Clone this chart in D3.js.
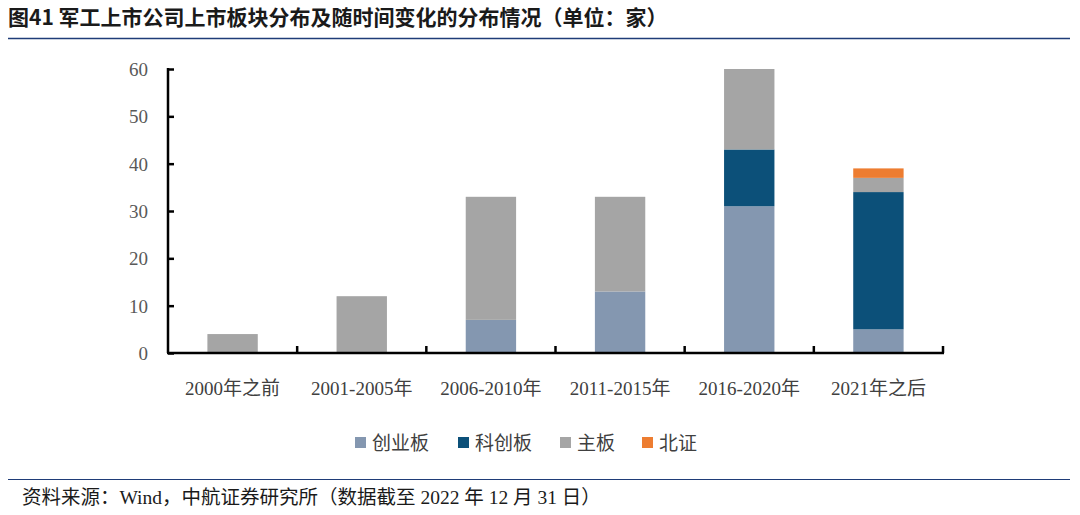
<!DOCTYPE html>
<html>
<head>
<meta charset="utf-8">
<script src="https://cdn.jsdelivr.net/npm/d3@7"></script>
<style>
body { margin: 0; background: #fff; }
svg { display: block; }
</style>
</head>
<body>
<svg id="canvas" width="1080" height="515"></svg>
<script>
let categories = ['2000年之前', '2001-2005年', '2006-2010年', '2011-2015年', '2016-2020年', '2021年之后']
let seriesNames = ['创业板', '科创板', '主板', '北证']
let chuangye = [0, 0, 7, 13, 31, 5]
let kechuang = [0, 0, 0, 0, 12, 29]
let zhuban = [4, 12, 26, 20, 17, 3]
let beizheng = [0, 0, 0, 0, 0, 2]
let colors = ['#8497b0', '#0c5079', '#a5a5a5', '#ed7d31']
let yTicks = [0, 10, 20, 30, 40, 50, 60]

let serif = '"Liberation Serif", "Noto Sans CJK SC", serif'
let canvas = d3.select('#canvas')

// title + rule
canvas.append('text')
    .attr('x', 8).attr('y', 25)
    .attr('font-family', '"Noto Sans CJK SC", sans-serif')
    .attr('font-weight', 'bold')
    .attr('font-size', 21)
    .attr('fill', '#1a1a1a')
    .text('图41  军工上市公司上市板块分布及随时间变化的分布情况（单位：家）')
canvas.append('line')
    .attr('x1', 8).attr('x2', 1070).attr('y1', 38.5).attr('y2', 38.5)
    .attr('stroke', '#1f3c78').attr('stroke-width', 1.5)

let rows = categories.map((c, i) => ({
    cat: c, '创业板': chuangye[i], '科创板': kechuang[i], '主板': zhuban[i], '北证': beizheng[i]
}))
let stacked = d3.stack().keys(seriesNames)(rows)

let x = d3.scaleBand().domain(categories).range([168, 943]).paddingInner(0.61).paddingOuter(0.305)
let y = d3.scaleLinear().domain([0, 60]).range([353, 69])

canvas.append('g').selectAll('g')
    .data(stacked)
    .enter()
    .append('g')
    .attr('fill', (d, i) => colors[i])
    .selectAll('rect')
    .data(d => d)
    .enter()
    .append('rect')
    .attr('x', d => x(d.data.cat))
    .attr('width', x.bandwidth())
    .attr('y', d => y(d[1]))
    .attr('height', d => y(d[0]) - y(d[1]))

// y axis
let yAxis = canvas.append('g')
    .attr('transform', 'translate(168,0)')
    .call(d3.axisRight(y).tickValues(yTicks).tickSize(6).tickFormat(''))
yAxis.select('.domain').attr('stroke', '#000').attr('stroke-width', 2.5).attr('d', 'M0,68V353')
yAxis.selectAll('.tick line').attr('stroke', '#000').attr('stroke-width', 2.5)
canvas.append('g').selectAll('text')
    .data(yTicks)
    .enter()
    .append('text')
    .attr('x', 148)
    .attr('y', d => y(d) + 7)
    .attr('text-anchor', 'end')
    .attr('font-family', serif)
    .attr('font-size', 19)
    .attr('fill', '#595959')
    .text(d => d)

// x axis
let bounds = categories.map(c => x(c) - x.step() * x.paddingInner() / 2).concat([943])
let xAxis = canvas.append('g')
canvas.append('line')
    .attr('x1', 167).attr('x2', 944).attr('y1', 353).attr('y2', 353)
    .attr('stroke', '#000').attr('stroke-width', 2.5)
xAxis.selectAll('line')
    .data(bounds.slice(1))
    .enter()
    .append('line')
    .attr('x1', d => d).attr('x2', d => d)
    .attr('y1', 353).attr('y2', 346)
    .attr('stroke', '#000').attr('stroke-width', 2.5)
canvas.append('g').selectAll('text')
    .data(categories)
    .enter()
    .append('text')
    .attr('x', d => x(d) + x.bandwidth() / 2)
    .attr('y', 395)
    .attr('text-anchor', 'middle')
    .attr('font-family', serif)
    .attr('font-size', 19)
    .attr('fill', '#404040')
    .text(d => d)

// legend
let legendX = [355, 458, 560, 642]
let legend = canvas.append('g').selectAll('g')
    .data(seriesNames)
    .enter()
    .append('g')
    .attr('transform', (d, i) => 'translate(' + legendX[i] + ',437)')
legend.append('rect')
    .attr('width', 11).attr('height', 11)
    .attr('fill', (d, i) => colors[i])
legend.append('text')
    .attr('x', 17).attr('y', 13)
    .attr('font-family', serif)
    .attr('font-size', 19)
    .attr('fill', '#404040')
    .text(d => d)

// footer
canvas.append('line')
    .attr('x1', 8).attr('x2', 1070).attr('y1', 479.5).attr('y2', 479.5)
    .attr('stroke', '#1f3c78').attr('stroke-width', 1)
canvas.append('text')
    .attr('x', 22).attr('y', 504)
    .attr('font-family', serif)
    .attr('font-size', 19.5)
    .attr('fill', '#1a1a1a')
    .text('资料来源：Wind，中航证券研究所（数据截至 2022 年 12 月 31 日）')
</script>
</body>
</html>
